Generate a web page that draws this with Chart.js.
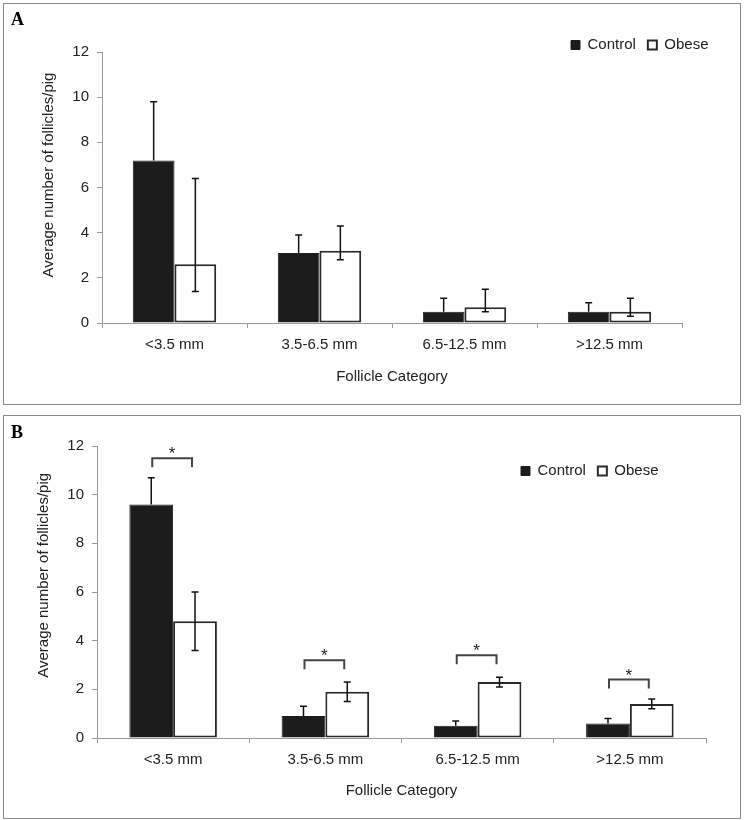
<!DOCTYPE html>
<html lang="en">
<head>
<meta charset="UTF-8">
<title>Follicle counts per pig</title>
<script src="https://cdn.jsdelivr.net/npm/chart.js"></script>
<style>
    body {
        margin: 0;
        width: 745px;
        height: 820px;
        position: relative;
        overflow: hidden;
        background: #fff;
    }
    .panel {
        position: absolute;
        left: 3px;
        width: 738px;
        border: 1px solid #8c8c8c;
        box-sizing: border-box;
    }
    #boxA { top: 3px; height: 402px; }
    #boxB { top: 415px; height: 404px; }
    .wrap {
        position: absolute;
        left: 0;
        width: 745px;
        height: 410px;
    }
    #wrapA { top: 0; }
    #wrapB { top: 410px; }
    .tag {
        position: absolute;
        left: 11px;
        font: bold 18px "Liberation Serif", "Times New Roman", serif;
        line-height: 1;
        color: #000;
    }
</style>
</head>
<body>
<div class="panel" id="boxA"></div>
<div class="panel" id="boxB"></div>
<div class="wrap" id="wrapA"><canvas id="chartA" width="745" height="410"></canvas></div>
<div class="wrap" id="wrapB"><canvas id="chartB" width="745" height="410"></canvas></div>
<div class="tag" style="top:10px">A</div>
<div class="tag" style="top:423px">B</div>

<script>
    const categories = ['<3.5 mm', '3.5-6.5 mm', '6.5-12.5 mm', '>12.5 mm'];
    const yTicks = [0, 2, 4, 6, 8, 10, 12];

    // panel A: means and upper/lower error bar ends
    // (control bars only show the upper whisker)
    const controlA = [7.2, 3.1, 0.5, 0.5];
    const controlAHi = [9.8, 3.9, 1.1, 0.9];
    const obeseA = [2.6, 3.2, 0.7, 0.5];
    const obeseAHi = [6.4, 4.3, 1.5, 1.1];
    const obeseALo = [1.4, 2.8, 0.5, 0.3];

    // panel B
    const controlB = [9.6, 0.9, 0.5, 0.6];
    const controlBHi = [10.7, 1.3, 0.7, 0.8];
    const obeseB = [4.8, 1.9, 2.3, 1.4];
    const obeseBHi = [6.0, 2.3, 2.5, 1.6];
    const obeseBLo = [3.6, 1.5, 2.1, 1.2];
    // height of the "*" brackets in panel B
    const sigB = [11.5, 3.2, 3.4, 2.4];

    const FONT = '"Liberation Sans", Arial, sans-serif';
    Chart.defaults.font.family = FONT;
    Chart.defaults.font.size = 15;
    Chart.defaults.color = '#222';

    // whiskers drawn from each dataset's lo/hi arrays
    const errorBars = {
        id: 'errorBars',
        afterDatasetsDraw(chart) {
            const ctx = chart.ctx;
            const y = chart.scales.y;
            ctx.save();
            ctx.strokeStyle = '#111';
            ctx.lineWidth = 1.5;
            chart.data.datasets.forEach((ds, di) => {
                chart.getDatasetMeta(di).data.forEach((bar, i) => {
                    const t = y.getPixelForValue(ds.hi[i]);
                    const b = ds.lo ? y.getPixelForValue(ds.lo[i]) : bar.y;
                    ctx.beginPath();
                    ctx.moveTo(bar.x, t); ctx.lineTo(bar.x, b);
                    ctx.moveTo(bar.x - 3.5, t); ctx.lineTo(bar.x + 3.5, t);
                    if (ds.lo) { ctx.moveTo(bar.x - 3.5, b); ctx.lineTo(bar.x + 3.5, b); }
                    ctx.stroke();
                });
            });
            ctx.restore();
        }
    };

    // significance brackets with a star
    const brackets = {
        id: 'brackets',
        afterDatasetsDraw(chart, args, opts) {
            if (!opts.levels) return;
            const ctx = chart.ctx;
            const y = chart.scales.y;
            const c = chart.getDatasetMeta(0).data;
            const o = chart.getDatasetMeta(1).data;
            ctx.save();
            ctx.strokeStyle = '#444';
            ctx.lineWidth = 2;
            ctx.fillStyle = '#222';
            ctx.font = '17px ' + FONT;
            ctx.textAlign = 'center';
            ctx.textBaseline = 'alphabetic';
            opts.levels.forEach((v, i) => {
                const x1 = c[i].x + 1, x2 = o[i].x - 3;
                const top = y.getPixelForValue(v);
                ctx.beginPath();
                ctx.moveTo(x1, top + 9); ctx.lineTo(x1, top);
                ctx.lineTo(x2, top); ctx.lineTo(x2, top + 9);
                ctx.stroke();
                ctx.fillText('*', (x1 + x2) / 2, top + 1);
            });
            ctx.restore();
        }
    };

    // put the legend where the original has it
    const legendAt = {
        id: 'legendAt',
        afterLayout(chart, args, opts) {
            const lg = chart.legend;
            if (!lg || opts.x === undefined) return;
            const pad = lg.options.labels.padding;
            lg.left = opts.x - pad;
            lg.right = lg.left + 300;
            lg.top = opts.y - pad - 7.5;
            lg.bottom = lg.top + 40;
        }
    };

    function makeChart(id, data, lay) {
        return new Chart(document.getElementById(id), {
            type: 'bar',
            data: {
                labels: categories,
                datasets: [{
                    label: 'Control',
                    data: data.control,
                    hi: data.controlHi,
                    backgroundColor: '#1c1c1c',
                    borderColor: '#1c1c1c',
                    borderWidth: 1,
                    categoryPercentage: 0.575,
                    barPercentage: 1.0
                }, {
                    label: 'Obese',
                    data: data.obese,
                    lo: data.obeseLo,
                    hi: data.obeseHi,
                    backgroundColor: '#ffffff',
                    borderColor: '#2a2a2a',
                    borderWidth: 2,
                    borderSkipped: false,
                    categoryPercentage: 0.575,
                    barPercentage: 1.0
                }]
            },
            options: {
                responsive: false,
                animation: false,
                layout: { padding: lay.padding },
                plugins: {
                    tooltip: { enabled: false },
                    legend: {
                        position: 'top',
                        align: 'start',
                        maxHeight: 0.01,
                        labels: { boxWidth: 9, boxHeight: 9, padding: 12, color: '#222', font: { size: 15 } }
                    },
                    legendAt: lay.legend,
                    brackets: { levels: data.sig }
                },
                scales: {
                    x: {
                        grid: { display: true, drawOnChartArea: false, drawTicks: true, tickLength: 5, color: '#9a9a9a', offset: true },
                        border: { display: true, color: '#9a9a9a' },
                        ticks: { padding: lay.xTickPad, color: '#222', font: { size: 15 } },
                        title: { display: true, text: 'Follicle Category', color: '#222', font: { size: 15 }, padding: { top: 0, bottom: lay.xTitlePad } },
                        afterFit: s => { s.height = 70; }
                    },
                    y: {
                        min: 0,
                        max: 12,
                        afterBuildTicks: s => { s.ticks = yTicks.map(v => ({ value: v })); },
                        grid: { display: true, drawOnChartArea: false, drawTicks: true, tickLength: 5, color: '#9a9a9a' },
                        border: { display: true, color: '#9a9a9a' },
                        ticks: { padding: 8, color: '#222', font: { size: 15 } },
                        // leading no-break spaces nudge the title up, as in the original
                        title: { display: true, text: lay.yPad + 'Average number of follicles/pig', color: '#222', font: { size: 15 }, padding: { top: 20, bottom: 0 } },
                        afterFit: s => { s.width = lay.yWidth; }
                    }
                }
            },
            plugins: [errorBars, brackets, legendAt]
        });
    }

    makeChart('chartA', {
        control: controlA, controlHi: controlAHi,
        obese: obeseA, obeseLo: obeseALo, obeseHi: obeseAHi
    }, {
        padding: { top: 52, left: 20, right: 63, bottom: 17 },
        yWidth: 82, xTickPad: 8, xTitlePad: 7,
        yPad: '\u00a0'.repeat(6),
        legend: { x: 571, y: 45 }
    });

    makeChart('chartB', {
        control: controlB, controlHi: controlBHi,
        obese: obeseB, obeseLo: obeseBLo, obeseHi: obeseBHi, sig: sigB
    }, {
        padding: { top: 36, left: 15, right: 39, bottom: 12 },
        yWidth: 82, xTickPad: 8, xTitlePad: 8,
        yPad: '\u00a0'.repeat(8),
        legend: { x: 521, y: 61 }
    });
</script>
</body>
</html>
